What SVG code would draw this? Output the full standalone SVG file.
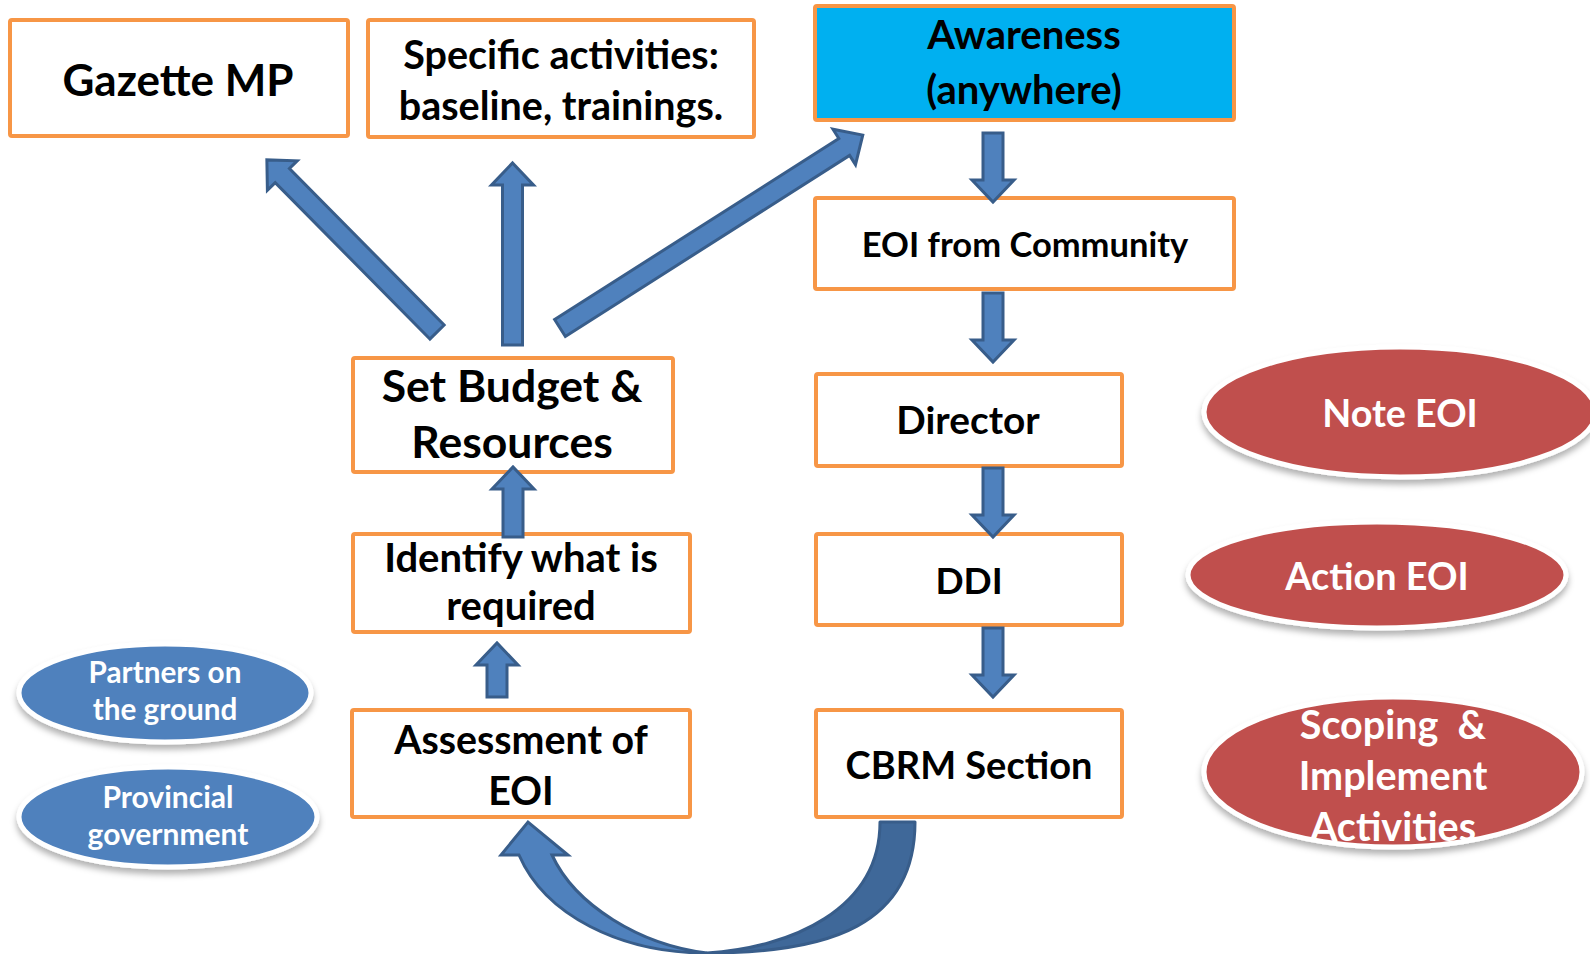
<svg xmlns="http://www.w3.org/2000/svg" width="1590" height="954" viewBox="0 0 1590 954">
<defs>
<style>
.box{fill:#fff;stroke:#F79646;stroke-width:4}
.t{font-family:Lato,"Open Sans",sans-serif;font-weight:bold;fill:#000;text-anchor:middle}
.tw{font-family:Lato,"Open Sans",sans-serif;font-weight:bold;fill:#fff;text-anchor:middle}
.arr{fill:#4F81BD;stroke:#385D8A;stroke-width:3;stroke-linejoin:miter}
.red{fill:#C0504D;stroke:#fff;stroke-width:5}
.blue{fill:#4F81BD;stroke:#fff;stroke-width:5}
</style>
<filter id="sh" x="-10%" y="-20%" width="120%" height="150%">
<feDropShadow dx="0" dy="5" stdDeviation="3" flood-color="#000" flood-opacity="0.3"/>
</filter>
</defs>

<g id="gazette">
<rect class="box" x="10" y="20" width="338" height="116" rx="2"/>
<text class="t" x="178" y="96" font-size="44">Gazette MP</text>
</g>
<g id="specific">
<rect class="box" x="368" y="20" width="386" height="117" rx="2"/>
<text class="t" x="561" y="69" font-size="39.5">Specific activities:</text>
<text class="t" x="561" y="120" font-size="39.5">baseline, trainings.</text>
</g>
<g id="awareness">
<rect x="815" y="6" width="419" height="114" rx="2" fill="#00B0F0" stroke="#F79646" stroke-width="4"/>
<text class="t" x="1024" y="49" font-size="40">Awareness</text>
<text class="t" x="1024" y="104" font-size="40">(anywhere)</text>
</g>
<g id="eoi">
<rect class="box" x="815" y="198" width="419" height="91" rx="2"/>
<text class="t" x="1025" y="257" font-size="34.5">EOI from Community</text>
</g>
<g id="director">
<rect class="box" x="816" y="374" width="306" height="92" rx="2"/>
<text class="t" x="968" y="434" font-size="38.8">Director</text>
</g>
<g id="ddi">
<rect class="box" x="816" y="534" width="306" height="91" rx="2"/>
<text class="t" x="969" y="594" font-size="37">DDI</text>
</g>
<g id="cbrm">
<rect class="box" x="816" y="710" width="306" height="107" rx="2"/>
<text class="t" x="969" y="779" font-size="38">CBRM Section</text>
</g>
<g id="budget">
<rect class="box" x="353" y="358" width="320" height="114" rx="2"/>
<text class="t" x="512" y="402" font-size="44.5">Set Budget &amp;</text>
<text class="t" x="512" y="458" font-size="44.5">Resources</text>
</g>
<g id="identify">
<rect class="box" x="353" y="534" width="337" height="98" rx="2"/>
<text class="t" x="521" y="572" font-size="40">Identify what is</text>
<text class="t" x="521" y="620" font-size="40">required</text>
</g>
<g id="assessment">
<rect class="box" x="352" y="710" width="338" height="107" rx="2"/>
<text class="t" x="521" y="754" font-size="39.3">Assessment of</text>
<text class="t" x="521" y="805" font-size="39.3">EOI</text>
</g>

<g id="partners">
<ellipse class="blue" cx="165" cy="693" rx="146" ry="49" filter="url(#sh)"/>
<text class="tw" x="165" y="683" font-size="29.7">Partners on</text>
<text class="tw" x="165" y="720" font-size="29.7">the ground</text>
</g>
<g id="provincial">
<ellipse class="blue" cx="168" cy="817" rx="149" ry="50" filter="url(#sh)"/>
<text class="tw" x="168" y="808" font-size="30">Provincial</text>
<text class="tw" x="168" y="845" font-size="30">government</text>
</g>
<g id="note">
<ellipse class="red" cx="1400" cy="412" rx="196" ry="65" filter="url(#sh)"/>
<text class="tw" x="1400" y="427" font-size="37.7">Note EOI</text>
</g>
<g id="action">
<ellipse class="red" cx="1377" cy="575" rx="189" ry="53" filter="url(#sh)"/>
<text class="tw" x="1377" y="590" font-size="37.8">Action EOI</text>
</g>
<g id="scoping">
<ellipse class="red" cx="1393" cy="772" rx="189" ry="75" filter="url(#sh)"/>
<text class="tw" x="1393" y="739" font-size="39.5" xml:space="preserve">Scoping  &amp;</text>
<text class="tw" x="1393" y="790" font-size="39.5">Implement</text>
<text class="tw" x="1393" y="841" font-size="39.5">Activities</text>
</g>

<g id="connectors">
<path class="arr" transform="translate(437,332) rotate(-134.67)" d="M0,-10 H220 V-21 L242,0 L220,21 V10 H0 Z"/>
<path class="arr" d="M502.5,345 V185 H491.5 L512.5,163 L533.5,185 H522.5 V345 Z"/>
<path class="arr" transform="translate(560,328) rotate(-32.5)" d="M0,-10 H337 V-21 L359,0 L337,21 V10 H0 Z"/>
<path class="arr" d="M503,537 V489 H492 L513,467 L534,489 H523 V537 Z"/>
<path class="arr" d="M487,697 V665 H476 L497,643 L518,665 H507 V697 Z"/>
<path class="arr" d="M983,133 H1003 V180 H1014 L993,202 L972,180 H983 Z"/>
<path class="arr" d="M983,293 H1003 V340 H1014 L993,362 L972,340 H983 Z"/>
<path class="arr" d="M983,468 H1003 V515 H1014 L993,537 L972,515 H983 Z"/>
<path class="arr" d="M983,628 H1003 V675 H1014 L993,697 L972,675 H983 Z"/>
<path d="M915,822 C915,925 830,953 707,953 C790,948 880,910 880,822 Z" fill="#3F6899" stroke="#385D8A" stroke-width="3" stroke-linejoin="round"/>
<path class="arr" d="M707,953 C620,953 545,915 519,855 L501,855 L528,822 L568,855 L552,855 C575,905 640,945 707,953 Z" stroke-linejoin="round"/>
</g>
</svg>
